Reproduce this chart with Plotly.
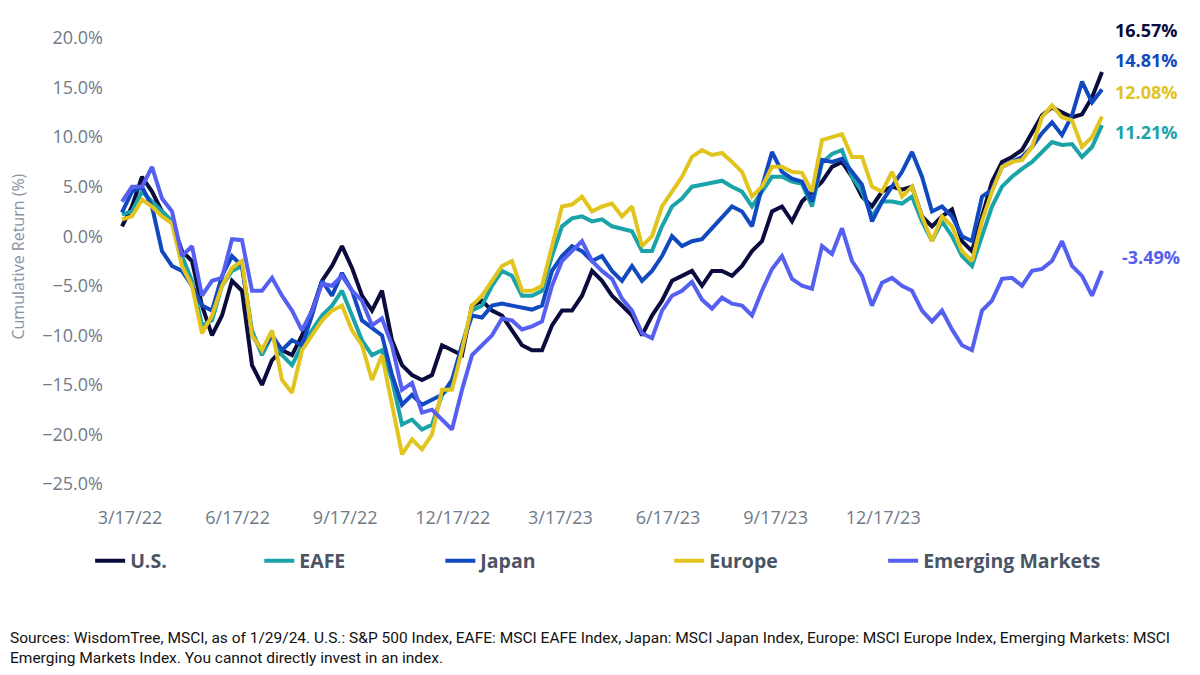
import plotly.graph_objects as go

# cumulative returns (%), one point per step along the category axis
us = [1.0, 3.0, 6.0, 4.5, 2.5, 1.5, -1.5, -2.5, -7.0, -10.0,
      -8.0, -4.5, -5.5, -13.0, -15.0, -12.5, -11.5, -12.0, -10.0, -7.5,
      -4.5, -3.0, -1.0, -3.2, -6.0, -7.5, -5.5, -10.5, -13.0, -14.0,
      -14.5, -14.0, -11.0, -11.5, -12.0, -7.0, -6.5, -7.5, -8.0, -9.5,
      -11.0, -11.5, -11.5, -9.0, -7.5, -7.5, -6.0, -3.5, -4.5, -6.0,
      -7.0, -8.0, -10.0, -8.0, -6.5, -4.5, -4.0, -3.5, -5.0, -3.5,
      -3.5, -4.0, -3.0, -1.5, -0.5, 2.5, 3.0, 1.5, 3.5, 4.5,
      5.5, 7.0, 7.5, 6.0, 4.0, 3.0, 4.5, 5.0, 4.7, 5.0,
      2.0, 1.0, 2.0, 2.7, -0.5, -1.5, 2.0, 5.5, 7.5, 8.0,
      8.7, 10.5, 12.2, 13.0, 12.5, 12.0, 12.3, 14.0, 16.57]
eafe = [2.2, 2.5, 4.5, 3.5, 2.5, 1.5, -2.0, -4.5, -9.0, -8.5,
        -5.0, -3.5, -3.0, -9.5, -12.0, -10.0, -12.0, -13.0, -11.0, -9.5,
        -8.0, -7.0, -5.5, -8.0, -10.5, -12.0, -11.5, -14.5, -19.0, -18.5,
        -19.5, -19.0, -16.0, -15.0, -11.0, -7.5, -7.0, -5.0, -3.5, -4.0,
        -6.0, -6.0, -5.5, -2.0, 1.0, 1.8, 2.0, 1.5, 1.7, 1.0,
        0.8, 0.5, -1.5, -1.5, 1.0, 3.0, 3.8, 5.0, 5.2, 5.4,
        5.6, 5.0, 4.5, 3.0, 4.5, 6.0, 6.0, 5.5, 5.3, 3.0,
        7.4, 8.3, 8.7, 6.0, 4.5, 2.0, 3.5, 3.5, 3.3, 4.0,
        1.5, -0.5, 1.5, 0.0, -2.0, -3.0, 0.0, 3.0, 5.0, 6.0,
        6.8, 7.5, 8.5, 9.5, 9.2, 9.3, 8.0, 9.0, 11.21]
japan = [2.4, 4.5, 5.0, 3.0, -1.5, -3.0, -3.5, -5.0, -7.0, -7.5,
         -4.0, -2.0, -3.0, -10.0, -11.5, -10.0, -11.5, -10.5, -11.0, -8.0,
         -4.5, -6.0, -3.7, -5.5, -8.5, -9.2, -10.0, -14.0, -17.0, -16.0,
         -17.0, -16.5, -16.0, -14.5, -11.0, -8.0, -8.2, -7.0, -6.8, -7.0,
         -7.2, -7.4, -7.0, -3.5, -2.0, -1.0, -1.5, -2.5, -2.0, -3.5,
         -4.5, -3.0, -4.5, -3.5, -2.0, 0.0, -1.0, -0.5, -0.3, 0.8,
         2.0, 3.0, 2.5, 1.0, 5.0, 8.5, 6.5, 5.8, 5.5, 3.5,
         7.7, 7.5, 7.8, 6.5, 5.2, 1.5, 3.5, 5.0, 6.5, 8.5,
         6.0, 2.5, 3.0, 2.0, 0.0, -0.5, 4.0, 4.7, 7.0, 7.5,
         8.0, 9.0, 10.4, 11.5, 10.2, 12.2, 15.6, 13.5, 14.81]
europe = [1.7, 2.0, 3.7, 3.0, 2.0, 1.3, -3.0, -5.0, -9.8, -8.0,
          -5.0, -3.2, -2.5, -10.0, -11.5, -9.5, -14.5, -15.8, -11.5, -10.0,
          -8.5, -7.5, -7.0, -9.5, -11.0, -14.5, -12.0, -17.0, -22.0, -20.5,
          -21.5, -20.0, -15.5, -15.5, -11.5, -7.0, -6.0, -4.5, -3.0, -2.5,
          -5.5, -5.5, -5.0, -1.0, 3.0, 3.2, 4.0, 2.5, 3.0, 3.3,
          2.0, 3.0, -1.0, 0.0, 3.0, 4.5, 6.0, 8.0, 8.7, 8.2,
          8.4, 7.5, 6.5, 4.0, 5.0, 7.0, 7.0, 6.5, 6.4, 4.5,
          9.7, 10.0, 10.3, 8.0, 8.0, 5.0, 4.5, 6.5, 4.0, 5.0,
          2.0, -0.5, 2.0, 1.0, -1.5, -2.5, 1.5, 4.5, 7.0, 7.5,
          7.7, 9.0, 12.0, 13.2, 12.0, 11.7, 9.0, 10.0, 12.08]
em = [3.5, 5.0, 5.0, 7.0, 3.8, 2.5, -2.0, -1.0, -6.0, -4.5,
      -4.2, -0.3, -0.4, -5.5, -5.5, -4.2, -6.0, -7.5, -9.5, -7.5,
      -4.8, -5.0, -4.0, -5.5, -6.5, -9.0, -8.3, -11.0, -15.5, -14.8,
      -17.8, -17.5, -18.5, -19.5, -15.5, -12.0, -11.0, -10.0, -8.3, -8.5,
      -9.4, -9.1, -8.6, -5.0, -2.5, -1.5, -0.5, -2.5, -3.5, -4.3,
      -6.3, -7.5, -9.8, -10.3, -7.5, -6.0, -5.5, -4.6, -6.4, -7.3,
      -6.2, -6.8, -7.0, -8.0, -5.5, -3.3, -2.0, -4.3, -5.0, -5.3,
      -1.0, -1.8, 0.8, -2.5, -4.0, -7.0, -4.7, -4.2, -5.0, -5.5,
      -7.5, -8.6, -7.5, -9.4, -11.0, -11.5, -7.5, -6.5, -4.3, -4.2,
      -5.0, -3.5, -3.3, -2.5, -0.5, -3.0, -4.0, -6.0, -3.49]

tick_labels = ["3/17/22", "6/17/22", "9/17/22", "12/17/22",
               "3/17/23", "6/17/23", "9/17/23", "12/17/23"]

names = ["U.S.", "EAFE", "Japan", "Europe", "Emerging Markets"]
series = [us, eafe, japan, europe, em]
colors = ["#0b0c3d", "#1aa3a8", "#1149c0", "#e2c41e", "#5560f0"]
legend_x = [-0.025, 0.145, 0.327, 0.557, 0.772]
label_y = [1.018, 0.789, 0.951, 0.879, 0.509]
label_x = [1.003, 1.003, 1.003, 1.003, 1.01]

idx = list(range(len(us)))
tick_pos = [0.8 + 10.76 * k for k in range(len(tick_labels))]

fig = go.Figure()
for n, (name, vals, col) in enumerate(zip(names, series, colors)):
    leg = "legend" if n == 0 else "legend%d" % (n + 1)
    fig.add_trace(go.Scatter(x=idx, y=vals, name=name, mode="lines",
                             line=dict(color=col, width=4),
                             legend=leg))
    fig.add_annotation(x=label_x[n], xref="paper", y=label_y[n], yref="paper",
                       text="<b>%.2f%%</b>" % vals[-1], showarrow=False,
                       xanchor="left", yanchor="middle",
                       font=dict(size=18, color=col))
    fig.update_layout({leg: dict(x=legend_x[n], y=-0.173, xanchor="left",
                                 yanchor="middle", orientation="h",
                                 bgcolor="rgba(0,0,0,0)",
                                 font=dict(size=19.5, color="#4b5463",
                                           family="Open Sans", weight="bold"))})

# the page body adds 8px around the figure, so the figure is 16px smaller
fig.update_layout(
    width=1184, height=659,
    margin=dict(l=107, r=82, t=30, b=183),
    paper_bgcolor="white", plot_bgcolor="white",
    font=dict(family="Open Sans", color="#707a88"),
    showlegend=True,
)
fig.update_xaxes(range=[-0.7, 98.8], tickvals=tick_pos, ticktext=tick_labels,
                 showgrid=False, zeroline=False, showline=False,
                 tickfont=dict(size=18, color="#707a88"),
                 ticklabelstandoff=21)
fig.update_yaxes(range=[-25, 20], dtick=5, tickformat=".1f", ticksuffix="%",
                 showgrid=False, zeroline=False, showline=False,
                 tickfont=dict(size=18, color="#707a88"),
                 ticklabelstandoff=11)

fig.add_annotation(x=-0.0975, xref="paper", y=0.51, yref="paper",
                   xanchor="center", yanchor="middle",
                   text="Cumulative Return (%)", textangle=-90,
                   showarrow=False, font=dict(size=16, color="#8a93a0"))

fig.add_annotation(x=-0.1075, xref="paper", y=-0.367, yref="paper",
                   xanchor="left", yanchor="middle", align="left",
                   showarrow=False,
                   font=dict(size=15.5, color="#111111", family="Roboto"),
                   text="Sources: WisdomTree, MSCI, as of 1/29/24. U.S.: S&P 500 Index, "
                        "EAFE: MSCI EAFE Index, Japan: MSCI Japan Index, Europe: MSCI Europe "
                        "Index, Emerging Markets: MSCI<br>Emerging Markets Index. You cannot "
                        "directly invest in an index.")

fig.write_html("out.html")
